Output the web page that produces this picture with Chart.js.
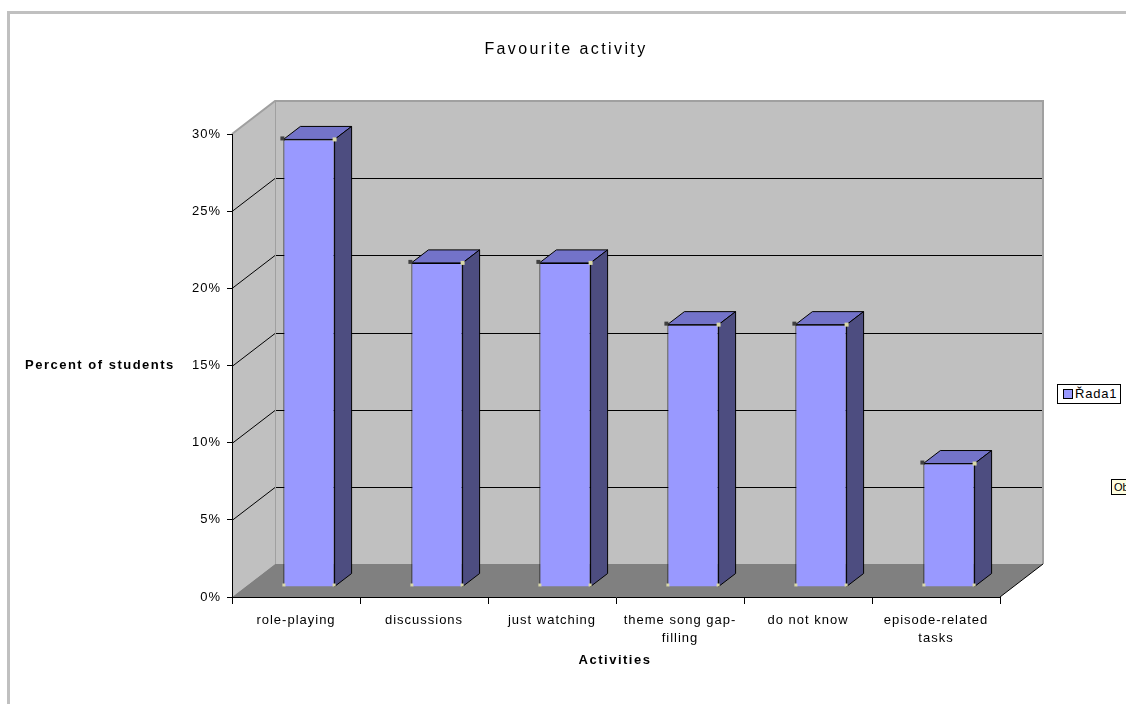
<!DOCTYPE html>
<html>
<head>
<meta charset="utf-8">
<script src="https://cdn.jsdelivr.net/npm/chart.js@4/dist/chart.umd.min.js"></script>
<style>
    html, body { margin: 0; padding: 0; background: #fff; overflow: hidden; width: 1126px; height: 704px; }
    #wrap { position: relative; width: 1126px; height: 704px; overflow: hidden; }
    #frame { position: absolute; left: 7px; top: 11px; width: 1200px; height: 800px; border: 3px solid #c0c0c0; box-sizing: border-box; }
    canvas { position: absolute; left: 0; top: 0; }
    .txt { position: absolute; font-family: "Liberation Sans", Arial, sans-serif; color: #000; white-space: nowrap; }
    #title { left: 0; width: 1132px; top: 40px; text-align: center; font-size: 16px; letter-spacing: 2.4px; }
    #ytitle { left: 25px; top: 357px; font-size: 13px; font-weight: bold; letter-spacing: 1.5px; }
    #xtitle { left: 515px; width: 200px; top: 652px; text-align: center; font-size: 13px; font-weight: bold; letter-spacing: 1.5px; }
    #legend { left: 1057px; top: 384px; height: 18px; padding: 0 3px 0 17px; border: 1px solid #000; font-size: 13px; line-height: 18px; background: #fff; letter-spacing: 0.8px; }
    #legend i { position: absolute; left: 5px; top: 4px; width: 8px; height: 8px; background: #9999ff; border: 1px solid #000; }
    #tip { left: 1111px; top: 479px; font-size: 11px; line-height: 14px; padding: 0 2px; background: #ffffe1; border: 1px solid #000; }
</style>
</head>
<body>
<div id="wrap">
    <div id="frame"></div>
    <canvas id="chart" width="1126" height="704"></canvas>
    <div class="txt" id="title">Favourite activity</div>
    <div class="txt" id="ytitle">Percent of students</div>
    <div class="txt" id="xtitle">Activities</div>
    <div class="txt" id="legend"><i></i>Řada1</div>
    <div class="txt" id="tip">Ob</div>
</div>
<script>
const categories = ['role-playing', 'discussions', 'just watching', ['theme song gap-', 'filling'], 'do not know', ['episode-related', 'tasks']];
const percentOfStudents = [29, 21, 21, 17, 17, 8];
const yTicks = [0, 5, 10, 15, 20, 25, 30];

// depth of the walls and of the bars
const WALL_DX = 43, WALL_DY = -33;
const BAR_DX = 17, BAR_DY = -13;
const SHIFT_X = 13, SHIFT_Y = -10;

const walls = {
    id: 'walls',
    beforeDraw(chart) {
        const { ctx, chartArea: a, scales: { y } } = chart;
        ctx.letterSpacing = '1px';
        const l = a.left, r = a.right;
        const b = y.getPixelForValue(yTicks[0]);
        const t = y.getPixelForValue(yTicks[yTicks.length - 1]);

        const poly = (pts, fill) => {
            ctx.beginPath();
            ctx.moveTo(pts[0][0], pts[0][1]);
            pts.slice(1).forEach(p => ctx.lineTo(p[0], p[1]));
            ctx.closePath();
            ctx.fillStyle = fill;
            ctx.fill();
        };
        const line = (pts, color) => {
            ctx.beginPath();
            ctx.moveTo(pts[0][0], pts[0][1]);
            pts.slice(1).forEach(p => ctx.lineTo(p[0], p[1]));
            ctx.strokeStyle = color;
            ctx.stroke();
        };

        ctx.save();
        ctx.lineWidth = 1;
        poly([[l + WALL_DX, t + WALL_DY], [r + WALL_DX, t + WALL_DY], [r + WALL_DX, b + WALL_DY], [l + WALL_DX, b + WALL_DY]], '#c0c0c0');
        poly([[l, t], [l + WALL_DX, t + WALL_DY], [l + WALL_DX, b + WALL_DY], [l, b]], '#c0c0c0');
        poly([[l, b], [l + WALL_DX, b + WALL_DY], [r + WALL_DX, b + WALL_DY], [r, b]], '#808080');

        yTicks.slice(1, -1).forEach(v => {
            const py = Math.round(y.getPixelForValue(v)) + 0.5;
            line([[l, py], [l + WALL_DX, py + WALL_DY], [r + WALL_DX, py + WALL_DY]], '#000');
        });

        ctx.lineWidth = 2;
        line([[l, t], [l + WALL_DX, t + WALL_DY], [r + WALL_DX, t + WALL_DY], [r + WALL_DX, b + WALL_DY]], '#a0a0a0');
        ctx.lineWidth = 1;
        line([[l + WALL_DX + 0.5, t + WALL_DY], [l + WALL_DX + 0.5, b + WALL_DY]], '#a0a0a0');
        line([[r, b], [r + WALL_DX, b + WALL_DY]], '#000');
        ctx.restore();
    }
};

const bars3d = {
    id: 'bars3d',
    beforeDatasetsDraw(chart) {
        chart.ctx.save();
        chart.ctx.translate(SHIFT_X, SHIFT_Y);
    },
    afterDatasetsDraw(chart) {
        const ctx = chart.ctx;
        ctx.lineWidth = 1;
        chart.getDatasetMeta(0).data.forEach(bar => {
            const { x, y, base, width } = bar.getProps(['x', 'y', 'base', 'width'], true);
            const l = x - width / 2, r = x + width / 2;
            ctx.strokeStyle = '#000';

            ctx.beginPath();
            ctx.moveTo(l, y);
            ctx.lineTo(l + BAR_DX, y + BAR_DY);
            ctx.lineTo(r + BAR_DX, y + BAR_DY);
            ctx.lineTo(r, y);
            ctx.closePath();
            ctx.fillStyle = '#7373c9';
            ctx.fill();
            ctx.stroke();

            ctx.beginPath();
            ctx.moveTo(r, y);
            ctx.lineTo(r + BAR_DX, y + BAR_DY);
            ctx.lineTo(r + BAR_DX, base + BAR_DY);
            ctx.lineTo(r, base);
            ctx.closePath();
            ctx.fillStyle = '#4d4d80';
            ctx.fill();
            ctx.stroke();

            // little selection handles on the front corners
            ctx.fillStyle = '#404040';
            ctx.fillRect(l - 3, y - 3, 4, 4);
            ctx.fillStyle = '#d8d8a8';
            ctx.fillRect(r - 2, y - 2, 4, 4);
            ctx.fillRect(l - 1, base - 3, 3, 3);
            ctx.fillRect(r - 2, base - 3, 3, 3);
        });
        ctx.restore();
    }
};

Chart.defaults.color = '#000';
Chart.defaults.font.family = '"Liberation Sans", Arial, sans-serif';
Chart.defaults.font.size = 13;

new Chart(document.getElementById('chart').getContext('2d'), {
    type: 'bar',
    data: {
        labels: categories,
        datasets: [{
            label: 'Řada1',
            data: percentOfStudents,
            backgroundColor: '#9999ff',
            borderColor: '#000',
            borderWidth: 1,
            barPercentage: 0.4,
            categoryPercentage: 1,
            clip: false
        }]
    },
    options: {
        responsive: false,
        animation: false,
        events: [],
        layout: { padding: { top: 134, right: 126, bottom: 47, left: 0 } },
        plugins: {
            legend: { display: false },
            title: { display: false },
            tooltip: { enabled: false }
        },
        scales: {
            y: {
                min: yTicks[0],
                max: yTicks[yTicks.length - 1],
                afterBuildTicks: (scale) => { scale.ticks = yTicks.map(v => ({ value: v })); },
                afterFit: (scale) => { scale.width = 232; },
                grid: { drawOnChartArea: false, drawTicks: true, tickLength: 5, color: '#000' },
                border: { color: '#000' },
                ticks: { padding: 6, callback: v => v + '%' }
            },
            x: {
                afterFit: (scale) => { scale.height = 60; },
                grid: { drawOnChartArea: false, drawTicks: true, tickLength: 7, color: '#000', offset: true },
                border: { color: '#000' },
                ticks: { padding: 7, maxRotation: 0, minRotation: 0, autoSkip: false, font: { lineHeight: 1.4 } }
            }
        }
    },
    plugins: [walls, bars3d]
});
</script>
</body>
</html>
